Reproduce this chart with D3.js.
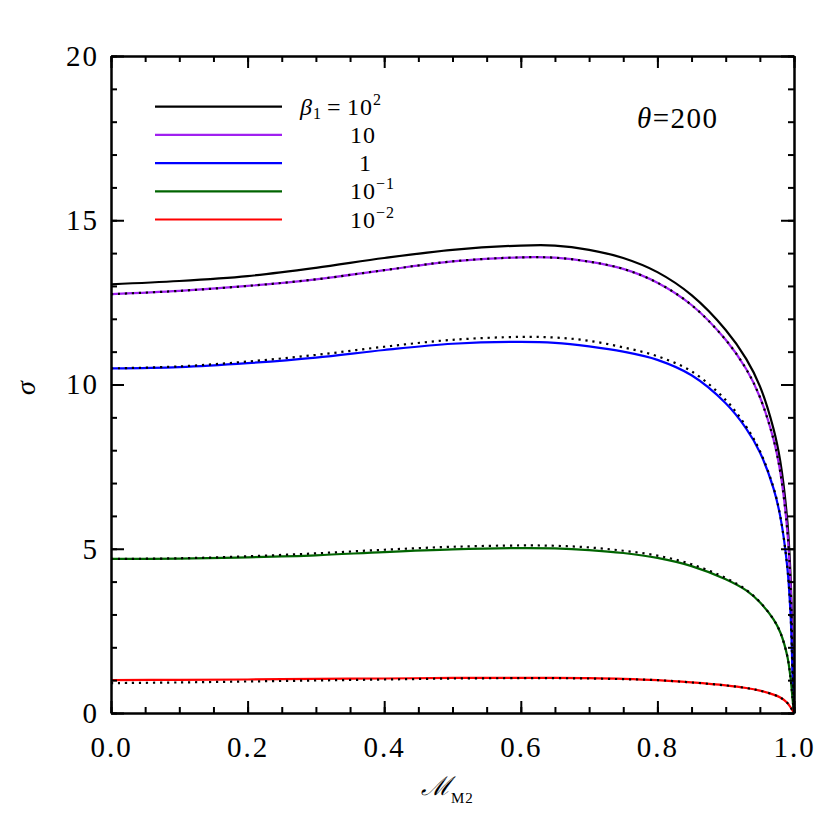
<!DOCTYPE html>
<html>
<head>
<meta charset="utf-8">
<script src="https://cdn.jsdelivr.net/npm/d3@7"></script>
<style>
  body { margin: 0; background: #fff; }
  svg text { font-family: "Liberation Serif", serif; fill: #000; }
  .axis path, .axis line { stroke: #000; stroke-width: 2; }
</style>
</head>
<body>
<div id="chart"></div>
<script>

// x grid of the curves (Mach number M_M2)
const machValues = [0, 0.1, 0.2, 0.3, 0.4, 0.5, 0.6, 0.65, 0.7, 0.75, 0.8, 0.85, 0.9, 0.93, 0.95, 0.97, 0.98, 0.99, 0.995, 0.998, 1]

// solid curves, one per beta_1
const sigmaBeta100 = [13.05, 13.15, 13.30, 13.55, 13.85, 14.10, 14.23, 14.23, 14.10, 13.85, 13.42, 12.72, 11.66, 10.78, 9.95, 8.65, 7.65, 5.9, 4.15, 1.9, 0]
const sigmaBeta10  = [12.75, 12.85, 13.0, 13.2, 13.48, 13.75, 13.87, 13.86, 13.74, 13.52, 13.10, 12.42, 11.36, 10.47, 9.62, 8.33, 7.32, 5.6, 3.85, 1.6, 0]
const sigmaBeta1   = [10.49, 10.53, 10.65, 10.82, 11.05, 11.24, 11.30, 11.27, 11.16, 11.0, 10.75, 10.28, 9.43, 8.66, 7.94, 6.84, 5.97, 4.48, 2.99, 1.1, 0]
const sigmaBeta01  = [4.69, 4.70, 4.74, 4.80, 4.90, 4.98, 5.02, 5.01, 4.96, 4.87, 4.72, 4.47, 4.07, 3.73, 3.37, 2.85, 2.45, 1.75, 1.06, 0.4, 0]
const sigmaBeta001 = [1.00, 1.01, 1.02, 1.04, 1.05, 1.07, 1.07, 1.07, 1.06, 1.04, 1.00, 0.93, 0.84, 0.76, 0.68, 0.56, 0.47, 0.31, 0.17, 0.07, 0]

// dotted approximations
const approxBeta10  = [12.75, 12.85, 13.0, 13.2, 13.48, 13.75, 13.87, 13.86, 13.74, 13.52, 13.10, 12.42, 11.36, 10.47, 9.62, 8.33, 7.32, 5.6, 3.85, 1.6, 0]
const approxBeta1   = [10.49, 10.55, 10.70, 10.90, 11.15, 11.36, 11.45, 11.43, 11.33, 11.13, 10.86, 10.40, 9.53, 8.72, 7.98, 6.86, 5.98, 4.48, 2.99, 1.1, 0]
const approxBeta01  = [4.69, 4.71, 4.77, 4.86, 4.97, 5.06, 5.10, 5.09, 5.04, 4.94, 4.79, 4.53, 4.11, 3.75, 3.38, 2.85, 2.45, 1.75, 1.06, 0.4, 0]
const approxBeta001 = [0.91, 0.93, 0.96, 0.99, 1.02, 1.05, 1.06, 1.06, 1.05, 1.03, 1.00, 0.93, 0.84, 0.76, 0.68, 0.56, 0.47, 0.31, 0.17, 0.07, 0]

const seriesColors = ["#000000", "#a020f0", "#0000ff", "#006400", "#ff0000"]
const legendBase = ["10", "10", "1", "10", "10"]
const legendExp = ["2", "", "", "\u22121", "\u22122"]

const xTicks = [0, 0.2, 0.4, 0.6, 0.8, 1.0]
const yTicks = [0, 5, 10, 15, 20]

// 1. Dimensions
let dimensions = {
  width: 830,
  height: 830,
  margin: { top: 56, right: 36, bottom: 117, left: 111 },
}
dimensions.boundedWidth = dimensions.width - dimensions.margin.left - dimensions.margin.right
dimensions.boundedHeight = dimensions.height - dimensions.margin.top - dimensions.margin.bottom

// 2. Canvas
const wrapper = d3.select("#chart")
  .append("svg")
    .attr("width", dimensions.width)
    .attr("height", dimensions.height)

const bounds = wrapper.append("g")
  .attr("transform", `translate(${dimensions.margin.left},${dimensions.margin.top})`)

// 3. Scales
const xScale = d3.scaleLinear()
  .domain([0, 1])
  .range([0, dimensions.boundedWidth])

const yScale = d3.scaleLinear()
  .domain([0, 20])
  .range([dimensions.boundedHeight, 0])

const lineGenerator = d3.line()
  .x(d => xScale(d[0]))
  .y(d => yScale(d[1]))
  .curve(d3.curveCatmullRom.alpha(0.5))

const toPoints = vals => machValues.map((m, i) => [m, vals[i]])

// 4. Data
const solidSeries = [sigmaBeta100, sigmaBeta10, sigmaBeta1, sigmaBeta01, sigmaBeta001]
const dottedSeries = [approxBeta10, approxBeta1, approxBeta01, approxBeta001]

const curves = bounds.append("g")

solidSeries.forEach((vals, i) => {
  curves.append("path")
    .attr("d", lineGenerator(toPoints(vals)))
    .attr("fill", "none")
    .attr("stroke", seriesColors[i])
    .attr("stroke-width", 2.2)
})

dottedSeries.forEach(vals => {
  curves.append("path")
    .attr("d", lineGenerator(toPoints(vals)))
    .attr("fill", "none")
    .attr("stroke", "#000")
    .attr("stroke-width", 2.2)
    .attr("stroke-dasharray", "2.2,4.8")
})

// 5. Axes (ticks inward on all four sides)
const minorX = d3.range(0, 1.0001, 0.05)
const minorY = d3.range(0, 20.0001, 1)

const addAxis = (axis, transform) => bounds.append("g")
  .attr("class", "axis")
  .attr("transform", transform)
  .call(axis)

addAxis(d3.axisBottom(xScale).tickValues(xTicks).tickSize(-12).tickSizeOuter(0)
  .tickPadding(23).tickFormat(d3.format(".1f")), `translate(0,${dimensions.boundedHeight})`)
addAxis(d3.axisBottom(xScale).tickValues(minorX).tickSize(-6).tickSizeOuter(0).tickFormat(""),
  `translate(0,${dimensions.boundedHeight})`)
addAxis(d3.axisTop(xScale).tickValues(xTicks).tickSize(-12).tickSizeOuter(0).tickFormat(""), "translate(0,0)")
addAxis(d3.axisTop(xScale).tickValues(minorX).tickSize(-6).tickSizeOuter(0).tickFormat(""), "translate(0,0)")

addAxis(d3.axisLeft(yScale).tickValues(yTicks).tickSize(-13).tickSizeOuter(0)
  .tickPadding(12).tickFormat(d3.format("d")), "translate(0,0)")
addAxis(d3.axisLeft(yScale).tickValues(minorY).tickSize(-6).tickSizeOuter(0).tickFormat(""), "translate(0,0)")
addAxis(d3.axisRight(yScale).tickValues(yTicks).tickSize(-13).tickSizeOuter(0).tickFormat(""),
  `translate(${dimensions.boundedWidth},0)`)
addAxis(d3.axisRight(yScale).tickValues(minorY).tickSize(-6).tickSizeOuter(0).tickFormat(""),
  `translate(${dimensions.boundedWidth},0)`)

bounds.selectAll(".axis text")
  .style("font-family", "'Liberation Serif', serif")
  .style("font-size", "29px")
  .style("letter-spacing", "2px")

// 6. Peripherals
// x label
const xLabel = wrapper.append("text")
  .attr("x", 421)
  .attr("y", 795)
xLabel.append("tspan")
  .style("font-family", "'DejaVu Serif', serif")
  .style("font-style", "italic")
  .style("font-size", "26px")
  .text("\u2133")
xLabel.append("tspan")
  .attr("dy", 8)
  .style("font-size", "15px")
  .style("letter-spacing", "1px")
  .text("M2")

// y label
wrapper.append("text")
  .attr("transform", "translate(35,388) rotate(-90)")
  .attr("text-anchor", "middle")
  .style("font-style", "italic")
  .style("font-size", "28px")
  .text("\u03c3")

// theta annotation
const thetaLabel = wrapper.append("text")
  .attr("x", 637)
  .attr("y", 128)
  .style("font-size", "29px")
  .style("letter-spacing", "1.5px")
thetaLabel.append("tspan").style("font-style", "italic").text("\u03b8")
thetaLabel.append("tspan").text("=200")

// legend
const legend = wrapper.append("g")
const legendY0 = 106.7
const legendStep = 28.2

seriesColors.forEach((color, i) => {
  const y = legendY0 + i * legendStep
  legend.append("line")
    .attr("x1", 155).attr("x2", 282)
    .attr("y1", y).attr("y2", y)
    .attr("stroke", color)
    .attr("stroke-width", 2.2)

  const label = legend.append("text")
    .attr("y", y + 8)
    .style("font-size", "24px")
    .style("letter-spacing", "1px")

  if (i === 0) {
    label.append("tspan").attr("x", 300).style("font-style", "italic").text("\u03b2")
    label.append("tspan").attr("dy", 4).style("font-size", "16px").text("1")
    label.append("tspan").attr("x", 327).attr("dy", -4).text("=")
    label.append("tspan").attr("x", 347).text(legendBase[i])
  } else if (legendBase[i] === "1") {
    label.append("tspan").attr("x", 359).text(legendBase[i])
  } else {
    label.append("tspan").attr("x", 350).text(legendBase[i])
  }
  if (legendExp[i]) {
    label.append("tspan")
      .attr("dy", -10)
      .style("font-size", "16px")
      .text(legendExp[i])
  }
})

</script>
</body>
</html>
